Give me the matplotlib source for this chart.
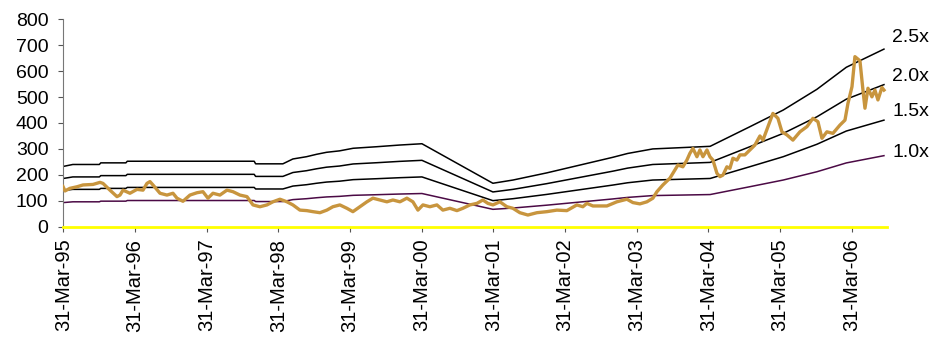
import matplotlib
matplotlib.use("Agg")
import matplotlib.pyplot as plt

plt.rcParams['font.family'] = ['Liberation Sans', 'DejaVu Sans']

# price series (decimal year, price)
price_t = [1995.243, 1995.271, 1995.340, 1995.438, 1995.522, 1995.661, 1995.759, 1995.801,
           1995.898, 1995.996, 1996.038, 1996.080, 1996.177, 1996.275, 1996.359, 1996.414,
           1996.456, 1996.498, 1996.596, 1996.693, 1996.777, 1996.833, 1996.916, 1997.014,
           1997.112, 1997.195, 1997.265, 1997.335, 1997.432, 1997.530, 1997.614, 1997.711,
           1997.809, 1997.893, 1997.990, 1998.088, 1998.171, 1998.269, 1998.367, 1998.450,
           1998.548, 1998.645, 1998.729, 1998.827, 1998.924, 1999.008, 1999.105, 1999.203,
           1999.287, 1999.385, 1999.482, 1999.566, 1999.664, 1999.761, 1999.845, 1999.943,
           2000.040, 2000.124, 2000.194, 2000.264, 2000.361, 2000.459, 2000.542, 2000.640,
           2000.738, 2000.821, 2000.919, 2001.017, 2001.100, 2001.170, 2001.240, 2001.337,
           2001.435, 2001.519, 2001.616, 2001.728, 2001.854, 2001.993, 2002.132, 2002.272,
           2002.411, 2002.495, 2002.551, 2002.635, 2002.830, 2002.969, 2003.109, 2003.193,
           2003.290, 2003.388, 2003.472, 2003.528, 2003.611, 2003.709, 2003.779, 2003.821,
           2003.890, 2003.946, 2003.988, 2004.030, 2004.086, 2004.128, 2004.170, 2004.226,
           2004.267, 2004.309, 2004.365, 2004.407, 2004.449, 2004.504, 2004.546, 2004.588,
           2004.644, 2004.686, 2004.755, 2004.825, 2004.895, 2004.965, 2005.007, 2005.077,
           2005.146, 2005.216, 2005.272, 2005.342, 2005.425, 2005.523, 2005.621, 2005.704,
           2005.774, 2005.830, 2005.899, 2005.983, 2006.081, 2006.151, 2006.193, 2006.249,
           2006.290, 2006.360, 2006.402, 2006.430, 2006.472, 2006.527, 2006.569, 2006.611,
           2006.667, 2006.695]
price_v = [155, 138, 148, 154, 161, 163, 171, 167,
           141, 116, 122, 141, 129, 144, 141, 167,
           174, 161, 129, 122, 129, 110, 98, 122,
           131, 135, 110, 129, 122, 141, 135, 122,
           116, 84, 77, 84, 96, 106, 96, 84,
           64, 62, 58, 54, 64, 77, 84, 71,
           58, 77, 96, 110, 103, 96, 103, 96,
           110, 96, 64, 84, 77, 84, 64, 71,
           62, 71, 84, 90, 103, 90, 84, 96,
           77, 71, 54, 45, 54, 58, 64, 62,
           84, 77, 90, 80, 80, 96, 106, 93,
           88, 96, 110, 135, 161, 187, 219, 238,
           231, 257, 283, 302, 270, 296, 270, 296,
           270, 257, 206, 193, 199, 231, 225, 264,
           257, 277, 277, 296, 315, 350, 334, 386,
           437, 418, 366, 354, 334, 366, 386, 418,
           405, 341, 366, 360, 392, 411, 476, 540,
           656, 640, 527, 457, 534, 501, 527, 489,
           537, 527]

# 1.0x base (decimal year, value)
base_t = [1995.247, 1995.38, 1995.75, 1995.77, 1996.12, 1996.14, 1997.91, 1997.93,
          1998.31, 1998.45, 1998.64, 1998.78, 1998.92, 1999.10, 1999.29, 1999.62,
          1999.94, 2000.25, 2001.24, 2001.52, 2001.99, 2002.45, 2002.91, 2003.12,
          2003.47, 2004.27, 2004.82, 2005.29, 2005.76, 2006.17, 2006.695]
base_v = [93, 96, 96, 98.5, 98.5, 101, 101, 97,
          97, 104.5, 108, 111.7, 114.8, 117, 121, 123.4,
          126, 128, 67, 72, 83, 95, 107, 113,
          120, 124, 154, 180, 212, 246, 274]

multiples = [2.5, 2.0, 1.5, 1.0]
band_labels = ['2.5x', '2.0x', '1.5x', '1.0x']
label_y = [731, 581, 443, 285]

tick_years = list(range(1995, 2007))
tick_labels = ['31-Mar-%02d' % (y % 100) for y in tick_years]

fig = plt.figure(figsize=(9.46, 3.38), dpi=100)
ax = fig.add_axes([0.0669, 0.3293, 0.8707, 0.6136])

for m, lab, ly in zip(multiples, band_labels, label_y):
    col = '#4b0a45' if m == 1.0 else 'black'
    ax.plot(base_t, [b * m for b in base_v], color=col, lw=1.1, zorder=2)
    ax.text(2006.81, ly, lab, fontsize=14, ha='left', va='center', clip_on=False)

ax.plot(price_t, price_v, color='#C8953E', lw=2.4, zorder=3)

ax.set_xlim(1995.247, 2006.737)
ax.set_ylim(0, 800)
ax.set_yticks(range(0, 801, 100))
ax.set_xticks([y + 0.247 for y in tick_years])
ax.set_xticklabels(tick_labels, rotation=90)
ax.tick_params(axis='both', colors='#555555', labelcolor='black', length=3.6, width=0.8)
ax.tick_params(axis='y', labelsize=14, pad=7)
ax.tick_params(axis='x', labelsize=14.5, pad=5)

for s in ['top', 'right']:
    ax.spines[s].set_visible(False)
ax.spines['left'].set_color('#777777')
ax.spines['bottom'].set_color('#FFFF00')
ax.spines['bottom'].set_linewidth(2)

fig.savefig('out.png', dpi=100)
